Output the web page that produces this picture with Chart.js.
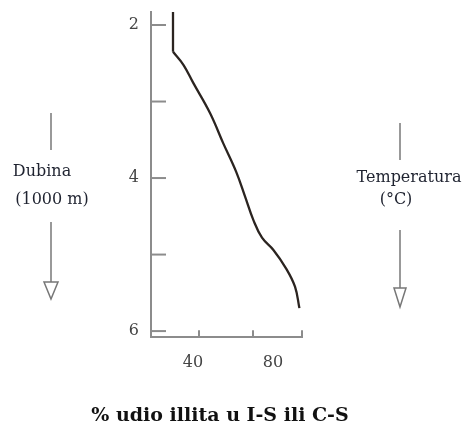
<!DOCTYPE html>
<html>
<head>
<meta charset="utf-8">
<script src="https://cdn.jsdelivr.net/npm/chart.js@4/dist/chart.umd.min.js"></script>
<style>
  html, body { margin: 0; padding: 0; background: #ffffff; }
  #wrap { width: 464px; height: 430px; }
</style>
</head>
<body>
<div id="wrap"><canvas id="c" width="464" height="430"></canvas></div>
<script>
// ---- data ----
const illitePct = [30, 30, 35.2, 40.2, 48.5, 55.2, 61.6, 66.0, 70.2, 74.5, 80.2, 86.5, 91.0, 93.2];
const depthKm   = [1.83, 2.35, 2.52, 2.76, 3.15, 3.55, 3.92, 4.24, 4.55, 4.78, 4.94, 5.18, 5.42, 5.70];
const cornerIndex = 1; // the curve is straight (vertical) above this point
const xTickLabels = [40, 80];
const xTickMarks  = [43, 70, 94.5];
const yTickLabels = [2, 4, 6];
const yTickMarks  = [2, 3, 4, 5, 6];
const titleText = '% udio illita u I-S ili C-S';
const leftNote  = ['Dubina', '(1000 m)'];
const rightNote = ['Temperatura', '(°C)'];

const axisColor = '#8c8c8c';
const lineColor = '#2b2420';
const serif = "'DejaVu Serif', 'Liberation Serif', serif";

const points = illitePct.map((v, i) => ({ x: v, y: depthKm[i] }));

const bgPlugin = {
  id: 'bg',
  beforeDraw(chart) {
    const ctx = chart.ctx;
    ctx.save();
    ctx.fillStyle = '#ffffff';
    ctx.fillRect(0, 0, chart.width, chart.height);
    ctx.restore();
  }
};

function arrowDown(ctx, x, y0, y1, headH, headW) {
  ctx.beginPath();
  ctx.moveTo(x, y0);
  ctx.lineTo(x, y1 - headH);
  ctx.stroke();
  ctx.beginPath();
  ctx.moveTo(x - headW, y1 - headH);
  ctx.lineTo(x + headW, y1 - headH);
  ctx.lineTo(x, y1);
  ctx.closePath();
  ctx.stroke();
}

const decoPlugin = {
  id: 'deco',
  afterDraw(chart) {
    const ctx = chart.ctx;
    const xs = chart.scales.x, ys = chart.scales.y;
    const ca = chart.chartArea;
    ctx.save();
    // inward tick marks
    ctx.strokeStyle = axisColor;
    ctx.lineWidth = 2;
    yTickMarks.forEach(v => {
      const py = ys.getPixelForValue(v);
      ctx.beginPath();
      ctx.moveTo(ca.left, py);
      ctx.lineTo(ca.left + 15, py);
      ctx.stroke();
    });
    xTickMarks.forEach(v => {
      const px = xs.getPixelForValue(v);
      ctx.beginPath();
      ctx.moveTo(px, ca.bottom);
      ctx.lineTo(px, ca.bottom - 7);
      ctx.stroke();
    });

    // side annotations
    const p4 = ys.getPixelForValue(4);
    ctx.fillStyle = '#1f2330';
    ctx.font = '16px ' + serif;
    ctx.textAlign = 'center';
    ctx.textBaseline = 'middle';
    ctx.fillText(leftNote[0], 42, p4 - 6);
    ctx.fillText(leftNote[1], 52, p4 + 22);
    ctx.fillText(rightNote[0], 409, p4);
    ctx.fillText(rightNote[1], 396, p4 + 22);

    ctx.strokeStyle = '#777777';
    ctx.lineWidth = 1.5;
    // left
    ctx.beginPath(); ctx.moveTo(51, 113); ctx.lineTo(51, 150); ctx.stroke();
    arrowDown(ctx, 51, 222, 299, 17, 7);
    // right
    ctx.beginPath(); ctx.moveTo(400, 123); ctx.lineTo(400, 160); ctx.stroke();
    arrowDown(ctx, 400, 230, 307, 19, 6);
    ctx.restore();
  }
};

new Chart(document.getElementById('c'), {
  type: 'line',
  data: {
    datasets: [{
      data: points.slice(0, cornerIndex + 1),
      borderColor: lineColor,
      borderWidth: 2.3,
      pointRadius: 0,
      tension: 0,
      fill: false
    }, {
      data: points.slice(cornerIndex),
      borderColor: lineColor,
      borderWidth: 2.3,
      pointRadius: 0,
      tension: 0.4,
      fill: false
    }]
  },
  options: {
    responsive: false,
    animation: false,
    devicePixelRatio: 1,
    layout: { padding: { left: 0, right: 24, top: 12, bottom: 0 } },
    plugins: {
      legend: { display: false },
      tooltip: { enabled: false },
      title: {
        display: true,
        position: 'bottom',
        text: titleText,
        color: '#111111',
        font: { family: serif, size: 19, weight: 'bold', lineHeight: 1.2 },
        padding: { top: 0, bottom: 3 }
      }
    },
    scales: {
      x: {
        type: 'linear',
        min: 19,
        max: 94.5,
        grid: { display: false, drawTicks: false },
        border: { display: true, color: axisColor, width: 2 },
        ticks: { color: '#444444', padding: 16, font: { family: serif, size: 16 } },
        afterBuildTicks(scale) { scale.ticks = xTickLabels.map(v => ({ value: v })); },
        afterFit(scale) {
          scale.height = 67;
          scale.paddingLeft = 0; scale.paddingRight = 0;
          scale.paddingTop = 0; scale.paddingBottom = 0;
        }
      },
      y: {
        type: 'linear',
        reverse: true,
        min: 1.83,
        max: 6.08,
        grid: { display: false, drawTicks: false },
        border: { display: true, color: axisColor, width: 2 },
        ticks: { color: '#444444', padding: 12, font: { family: serif, size: 16 } },
        afterBuildTicks(scale) { scale.ticks = yTickLabels.map(v => ({ value: v })); },
        afterFit(scale) {
          scale.width = 151;
          scale.paddingTop = 0; scale.paddingBottom = 0;
          scale.paddingLeft = 0; scale.paddingRight = 0;
        }
      },
      y2: {
        type: 'linear',
        position: 'right',
        display: true,
        grid: { display: false, drawTicks: false },
        border: { display: false },
        ticks: { display: false },
        afterFit(scale) {
          scale.width = 138;
          scale.paddingTop = 0; scale.paddingBottom = 0;
        }
      }
    }
  },
  plugins: [bgPlugin, decoPlugin]
});
</script>
</body>
</html>
